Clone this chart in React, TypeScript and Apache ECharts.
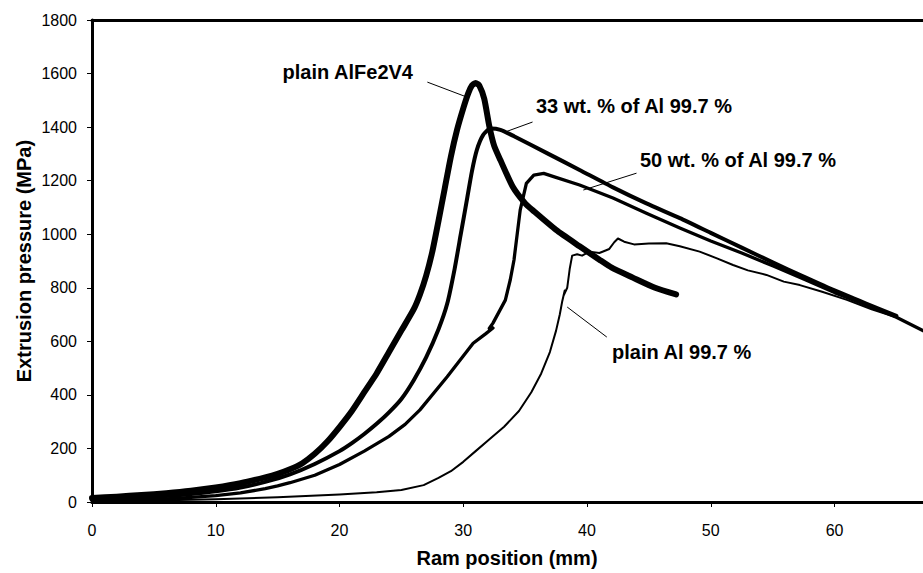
import React, { useEffect, useRef } from "react";
import * as echarts from "echarts";

// Ram position (mm), Extrusion pressure (MPa)
const plainAlFe2V4: number[][] = [
  [0, 15], [2, 20], [4, 26], [6, 33], [8, 42], [10, 54], [12, 70], [14, 92], [15, 105],
  [16, 122], [17, 145], [18, 180], [19, 225], [20, 280], [21, 340], [22, 410], [23, 480],
  [24, 560], [25, 640], [26, 720], [26.5, 775], [27, 845], [27.5, 935], [28, 1050],
  [28.5, 1170], [29, 1290], [29.5, 1390], [30, 1470], [30.4, 1526], [30.7, 1555], [31, 1565],
  [31.3, 1555], [31.7, 1505], [32.1, 1405], [32.5, 1330], [33, 1277], [34, 1177], [35, 1115],
  [35.6, 1090], [37.5, 1016], [39.4, 955], [41, 905], [42, 875], [43.7, 838], [45.5, 800],
  [47.2, 775],
];

const wt33Al: number[][] = [
  [0, 10], [2, 13], [4, 17], [6, 22], [8, 30], [10, 40], [12, 54], [14, 75], [16, 103],
  [18, 142], [20, 190], [21, 220], [22, 254], [23, 292], [24, 335], [25, 385], [26, 455],
  [27, 540], [28, 645], [28.7, 740], [29.3, 870], [29.8, 1000], [30.3, 1130], [30.7, 1235],
  [31.1, 1315], [31.6, 1370], [32.2, 1395], [33, 1390], [34.1, 1366], [36.8, 1302],
  [39.4, 1240], [42.1, 1175], [44.8, 1115], [47.5, 1060], [50, 1005], [52.5, 950],
  [55, 895], [57.5, 842], [60, 790], [62.5, 742], [65, 695],
];

const wt50Al: number[][] = [
  [0, 5], [2, 7], [4, 9], [6, 12], [8, 17], [10, 24], [12, 34], [14, 50], [15, 60],
  [16, 72], [18, 100], [20, 140], [22, 190], [24, 245], [25.3, 290], [26.5, 344],
  [28.7, 468], [30.8, 593], [31.8, 628], [32.4, 650], [32.1, 648], [32.4, 668],
  [33.4, 754], [33.8, 830], [34.1, 904], [34.6, 1090], [35.1, 1190], [35.7, 1221],
  [36.5, 1227], [37.3, 1215], [39.4, 1184], [42.1, 1135], [44.8, 1078], [47.5, 1023],
  [50, 975], [52.5, 930], [55, 882], [57.5, 833], [60, 782], [62.5, 737], [65, 690],
  [67.5, 632],
];

const plainAl: number[][] = [
  [0, 3], [5, 6], [10, 10], [15, 18], [20, 28], [23, 36], [25, 45], [26.8, 63], [28, 90],
  [29, 115], [30, 150], [31, 190], [32, 230], [33.3, 281], [34.5, 340], [35.5, 410],
  [36.3, 480], [37, 560], [37.5, 640], [37.8, 700], [38, 750], [38.2, 790], [38.1, 770],
  [38.4, 800], [38.6, 870], [38.8, 920], [39.2, 925], [39.6, 920], [40.2, 935], [41, 930],
  [41.8, 945], [42.2, 970], [42.5, 984], [43, 972], [43.8, 962], [45, 965], [46.4, 966],
  [47.5, 955], [49.1, 935], [50.5, 910], [51.8, 885], [53, 865], [54.5, 848], [55.9, 823],
  [57.2, 810], [59, 785], [61, 755], [63, 720], [65, 690],
];

// leader lines from labels to curves (data coordinates)
const leaderAlFe2V4: number[][] = [[27.1, 1568], [30.3, 1512]];
const leader33: number[][] = [[35.6, 1419], [33.4, 1382]];
const leader50: number[][] = [[44.0, 1228], [39.7, 1165]];
const leaderAl: number[][] = [[41.6, 616], [38.4, 728]];

const labels = ["plain AlFe2V4", "33 wt. % of Al 99.7 %", "50 wt. % of Al 99.7 %", "plain Al 99.7 %"];
const xMax = 67.15;

export default function App() {
  const ref = useRef<HTMLDivElement>(null);
  useEffect(() => {
    if (!ref.current) return;
    const chart = echarts.init(ref.current, null, { renderer: "svg" });
    const font = "'Liberation Sans', Arial, Helvetica, sans-serif";
    const curve = (name: string, data: number[][], width: number, smooth: number) => ({
      name,
      type: "line",
      data,
      showSymbol: false,
      silent: true,
      smooth,
      lineStyle: { color: "#000", width, join: "round", cap: "round" },
      z: 3,
    });
    const leader = (data: number[][]) => ({
      type: "line",
      data,
      showSymbol: false,
      silent: true,
      lineStyle: { color: "#000", width: 1 },
      z: 2,
    });
    const textStyle = (text: string, align: string) => ({
      text,
      font: `bold 20px ${font}`,
      fill: "#000",
      align,
      verticalAlign: "middle",
    });
    chart.setOption({
      animation: false,
      backgroundColor: "#fff",
      grid: { left: 92, top: 20, right: 0, bottom: 71 },
      xAxis: [
        {
          type: "value",
          min: 0,
          max: xMax,
          interval: 10,
          splitLine: { show: false },
          axisLine: { lineStyle: { color: "#000", width: 3 } },
          axisTick: { length: 5, lineStyle: { color: "#000", width: 1 } },
          axisLabel: {
            color: "#000",
            fontSize: 16,
            fontFamily: font,
            margin: 20,
            showMaxLabel: false,
          },
        },
        {
          type: "value",
          position: "top",
          min: 0,
          max: xMax,
          interval: 10,
          splitLine: { show: false },
          axisLine: { show: true, lineStyle: { color: "#000", width: 3 } },
          axisTick: { show: false },
          axisLabel: { show: false },
        },
      ],
      yAxis: {
        type: "value",
        min: 0,
        max: 1800,
        interval: 200,
        splitLine: { show: false },
        axisLine: { show: true, lineStyle: { color: "#000", width: 3 } },
        axisTick: { show: true, length: 5, lineStyle: { color: "#000", width: 1 } },
        axisLabel: {
          color: "#000",
          fontSize: 16,
          fontFamily: font,
          margin: 15,
          formatter: (v: number) => String(v),
        },
      },
      graphic: [
        {
          type: "text",
          x: 24,
          y: 261,
          rotation: Math.PI / 2,
          style: textStyle("Extrusion pressure (MPa)", "center"),
        },
        { type: "text", x: 507, y: 558, style: textStyle("Ram position (mm)", "center") },
        { type: "text", x: 413, y: 72, style: textStyle(labels[0], "right") },
        { type: "text", x: 536, y: 106, style: textStyle(labels[1], "left") },
        { type: "text", x: 640, y: 160, style: textStyle(labels[2], "left") },
        { type: "text", x: 612, y: 352, style: textStyle(labels[3], "left") },
      ],
      series: [
        curve("plain Al 99.7 %", plainAl, 2, 0),
        curve("50 wt. % of Al 99.7 %", wt50Al, 3.3, 0),
        curve("33 wt. % of Al 99.7 %", wt33Al, 4, 0.2),
        curve("plain AlFe2V4", plainAlFe2V4, 6, 0.2),
        leader(leaderAlFe2V4),
        leader(leader33),
        leader(leader50),
        leader(leaderAl),
      ],
    });
    return () => chart.dispose();
  }, []);
  return (
    <div
      ref={ref}
      style={{ position: "fixed", left: 0, top: 0, width: 923, height: 573, background: "#fff" }}
    />
  );
}
